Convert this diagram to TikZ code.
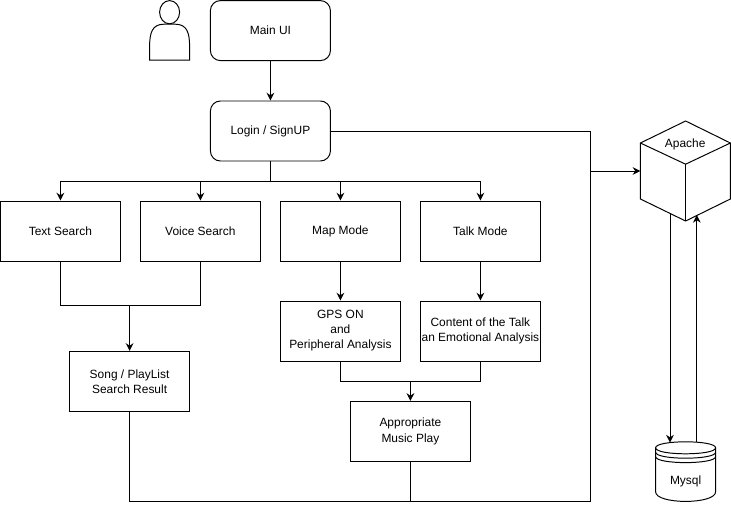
\documentclass[tikz,border=0pt]{standalone}
\usepackage{fontspec}
\setmainfont{Liberation Sans}
\usetikzlibrary{arrows.meta}

\tikzset{
    every picture/.style={line width=0.7pt},
    box/.style={draw,minimum width=3cm,minimum height=1.5cm,align=center,inner sep=0pt,font=\fontsize{8.5}{10.7}\selectfont},
    roundbox/.style={box,rounded corners=0.25cm},
    label/.style={font=\fontsize{8.5}{10.7}\selectfont,inner sep=0pt},
    >={Stealth[length=5.5pt,width=5.5pt]}
}

\begin{document}
\begin{tikzpicture}
    \useasboundingbox (0,0) rectangle (18.275,12.775);

    \node[roundbox] at (6.76,12.01) (mainui) {Main UI};
    \node[roundbox] at (6.76,9.5) (login) {Login / SignUP};
    \node[box] at (1.51,7) (textsearch) {Text Search};
    \node[box] at (5.01,7) (voicesearch) {Voice Search};
    \node[box] at (8.51,7) (mapmode) {Map Mode};
    \node[box] at (12.01,7) (talkmode) {Talk Mode};
    \node[box] at (8.51,4.5) (gps) {GPS ON\\and\\Peripheral Analysis};
    \node[box] at (12.01,4.5) (talkcontent) {Content of the Talk\\an Emotional Analysis};
    \node[box] at (3.24,3.24) (songresult) {Song / PlayList\\Search Result};
    \node[box] at (10.26,1.99) (musicplay) {Appropriate\\Music Play};

    \coordinate (bus) at (6.76,8.24);
    \coordinate (searchjoin) at (3.24,5.14);
    \coordinate (playjoin) at (10.26,3.24);
    \coordinate (cornertop) at (14.75,9.5);
    \coordinate (cornerbot) at (14.75,0.24);
    \coordinate (servertap) at (14.75,8.5);

    % user
    \draw (4.24,12.47) ellipse (0.25 and 0.29);
    \draw (3.74,11.27) -- (3.74,11.6) .. controls (3.74,11.95) and (3.8,12.17) .. (4.1,12.17)
        -- (4.38,12.17) .. controls (4.68,12.17) and (4.74,11.95) .. (4.74,11.6) -- (4.74,11.27) -- cycle;

    % apache
    \node[label] at (17.13,9.16) (apache) {Apache};
    \coordinate (apachewest) at (16.01,8.5);
    \coordinate (apacheout) at (16.75,7.43);
    \coordinate (apachein) at (17.42,7.4);
    \draw (17.14,9.75) -- (18.26,9.2) -- (18.26,7.8) -- (17.14,7.25) -- (16.01,7.8) -- (16.01,9.2) -- cycle;
    \draw (16.01,9.2) -- (17.14,8.67) -- (18.26,9.2);
    \draw (17.14,8.67) -- (17.14,7.25);

    % mysql
    \node[label] at (17.14,0.75) (mysql) {Mysql};
    \coordinate (mysqlin) at (16.75,1.71);
    \coordinate (mysqlout) at (17.42,1.73);
    \draw (16.39,1.58) .. controls (16.39,1.78) and (17.89,1.78) .. (17.89,1.58)
        -- (17.89,0.48) .. controls (17.89,0.16) and (16.39,0.16) .. (16.39,0.48) -- cycle;
    \draw (16.39,1.58) .. controls (16.39,1.38) and (17.89,1.38) .. (17.89,1.58);
    \draw (16.39,1.47) .. controls (16.39,1.27) and (17.89,1.27) .. (17.89,1.47);
    \draw (16.39,1.36) .. controls (16.39,1.16) and (17.89,1.16) .. (17.89,1.36);

    \path[->] (mainui) edge (login);
    \draw (login) -- (bus);
    \draw[->] (bus) -| (textsearch);
    \draw[->] (bus) -| (voicesearch);
    \draw[->] (bus) -| (mapmode);
    \draw[->] (bus) -| (talkmode);
    \draw (textsearch) |- (searchjoin);
    \draw (voicesearch) |- (searchjoin);
    \path[->] (searchjoin) edge (songresult);
    \path[->] (mapmode) edge (gps);
    \path[->] (talkmode) edge (talkcontent);
    \draw (gps) |- (playjoin);
    \draw (talkcontent) |- (playjoin);
    \path[->] (playjoin) edge (musicplay);
    \draw (login) -- (cornertop) -- (cornerbot) -- (cornerbot -| songresult) -- (songresult);
    \draw (musicplay) -- (musicplay |- cornerbot);
    \path[->] (servertap) edge (apachewest);
    \path[->] (apacheout) edge (mysqlin);
    \path[->] (mysqlout) edge (apachein);
\end{tikzpicture}
\end{document}
